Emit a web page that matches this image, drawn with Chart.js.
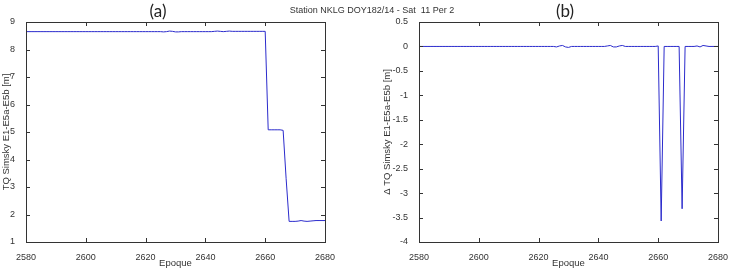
<!DOCTYPE html>
<html>
<head>
<meta charset="utf-8">
<script src="https://cdn.jsdelivr.net/npm/chart.js@4"></script>
<style>
  body { margin: 0; background: #fff; }
  #wrap { position: relative; width: 730px; height: 272px; overflow: hidden; }
  canvas { position: absolute; top: 0; }
  .lbl { position: absolute; transform: translate(-50%, -50%); white-space: pre; }
  .panel { font-family: Lato, "Open Sans", sans-serif; font-size: 17px; color: #222; }
  .station { font-family: "Liberation Sans", Arial, sans-serif; font-size: 9px; color: #333; }
</style>
</head>
<body>
<div id="wrap">
  <canvas id="chartA" width="365" height="272" style="left:0"></canvas>
  <canvas id="chartB" width="365" height="272" style="left:365px"></canvas>
  <div class="lbl panel" style="left:158px; top:10px">(a)</div>
  <div class="lbl panel" style="left:565px; top:10px">(b)</div>
  <div class="lbl station" style="left:372px; top:10px">Station NKLG DOY182/14 - Sat  11 Per 2</div>
</div>
<script>
// Epochs (x values)
const epochs = [
  2580, 2581, 2582, 2583, 2584, 2585, 2586, 2587, 2588, 2589,
  2590, 2591, 2592, 2593, 2594, 2595, 2596, 2597, 2598, 2599,
  2600, 2601, 2602, 2603, 2604, 2605, 2606, 2607, 2608, 2609,
  2610, 2611, 2612, 2613, 2614, 2615, 2616, 2617, 2618, 2619,
  2620, 2621, 2622, 2623, 2624, 2625, 2626, 2627, 2628, 2629,
  2630, 2631, 2632, 2633, 2634, 2635, 2636, 2637, 2638, 2639,
  2640, 2641, 2642, 2643, 2644, 2645, 2646, 2647, 2648, 2649,
  2650, 2651, 2652, 2653, 2654, 2655, 2656, 2657, 2658, 2659,
  2660, 2661, 2662, 2663, 2664, 2665, 2666, 2667, 2668, 2669,
  2670, 2671, 2672, 2673, 2674, 2675, 2676, 2677, 2678, 2679,
  2680
];

// (a) TQ Simsky E1-E5a-E5b [m]
const tqValues = [
  8.65, 8.65, 8.65, 8.65, 8.65, 8.65, 8.65, 8.65, 8.65, 8.65,
  8.65, 8.65, 8.65, 8.65, 8.65, 8.65, 8.65, 8.65, 8.65, 8.65,
  8.65, 8.65, 8.65, 8.65, 8.65, 8.65, 8.65, 8.65, 8.65, 8.65,
  8.65, 8.65, 8.65, 8.65, 8.65, 8.65, 8.65, 8.65, 8.65, 8.65,
  8.65, 8.65, 8.65, 8.65, 8.65, 8.65, 8.64, 8.65, 8.67, 8.66,
  8.64, 8.64, 8.65, 8.65, 8.65, 8.65, 8.65, 8.65, 8.65, 8.65,
  8.65, 8.65, 8.65, 8.66, 8.67, 8.66, 8.65, 8.66, 8.67, 8.66,
  8.66, 8.66, 8.66, 8.66, 8.66, 8.66, 8.66, 8.66, 8.66, 8.66,
  8.66, 5.08, 5.08, 5.08, 5.08, 5.08, 5.06, 3.30, 1.75, 1.75,
  1.75, 1.76, 1.78, 1.76, 1.75, 1.76, 1.77, 1.78, 1.78, 1.78,
  1.78
];

// (b) Delta TQ Simsky E1-E5a-E5b [m]
const deltaValues = [
  0, 0, 0, 0, 0, 0, 0, 0, 0, 0,
  0, 0, 0, 0, 0, 0, 0, 0, 0, 0,
  0, 0, 0, 0, 0, 0, 0, 0, 0, 0,
  0, 0, 0, 0, 0, 0, 0, 0, 0, 0,
  0, 0, 0, 0, 0, 0, -0.01, 0.01, 0.02, -0.01,
  -0.02, 0, 0, 0, 0, 0, 0, 0, 0, 0,
  0, 0, 0, 0.01, 0.02, -0.01, -0.01, 0.01, 0.02, 0,
  0, 0, 0, 0, 0, 0, 0, 0, 0, 0,
  0.01, -3.57, 0, 0, 0, 0, 0, 0, -3.32, 0,
  0, 0, 0, 0.01, -0.01, 0.02, 0.01, 0, 0, 0,
  0
];

const xTicks = [2580, 2600, 2620, 2640, 2660, 2680];
const yTicksA = [1, 2, 3, 4, 5, 6, 7, 8, 9];
const yTicksB = [-4, -3.5, -3, -2.5, -2, -1.5, -1, -0.5, 0, 0.5];

const FONT = { family: "'Liberation Sans', Arial, sans-serif", size: 9 };
const TITLE_FONT = { family: "'Liberation Sans', Arial, sans-serif", size: 9.5 };
const TEXT = '#333';
const LINE = '#2b2bcc';

// Matlab-like box with inward ticks on all four sides
const boxPlugin = {
  id: 'box',
  afterDraw(chart) {
    const ctx = chart.ctx;
    const a = chart.chartArea;
    const len = 4;
    ctx.save();
    ctx.strokeStyle = '#333';
    ctx.lineWidth = 1;
    ctx.strokeRect(Math.round(a.left) + 0.5, Math.round(a.top) + 0.5,
      Math.round(a.right - a.left), Math.round(a.bottom - a.top));
    ctx.beginPath();
    chart.scales.x.ticks.forEach(t => {
      const px = Math.round(chart.scales.x.getPixelForValue(t.value)) + 0.5;
      ctx.moveTo(px, a.bottom); ctx.lineTo(px, a.bottom - len);
      ctx.moveTo(px, a.top); ctx.lineTo(px, a.top + len);
    });
    chart.scales.y.ticks.forEach(t => {
      const py = Math.round(chart.scales.y.getPixelForValue(t.value)) + 0.5;
      ctx.moveTo(a.left, py); ctx.lineTo(a.left + len, py);
      ctx.moveTo(a.right, py); ctx.lineTo(a.right - len, py);
    });
    ctx.stroke();
    ctx.restore();
  }
};

// plain labels as in Matlab: 2580, 0.5, -4
const plain = v => String(v);

function makeChart(id, values, yTicks, yTitle, yWidth, yTitlePad, rightPad) {
  const points = epochs.map((x, i) => ({ x: x, y: values[i] }));
  return new Chart(document.getElementById(id).getContext('2d'), {
    type: 'line',
    data: {
      datasets: [{
        data: points,
        borderColor: LINE,
        borderWidth: 1,
        pointRadius: 0,
        tension: 0,
        fill: false
      }]
    },
    options: {
      responsive: false,
      animation: false,
      devicePixelRatio: 1,
      layout: { padding: { left: 0, right: rightPad, top: 22, bottom: 0 } },
      plugins: { legend: { display: false }, tooltip: { enabled: false } },
      scales: {
        x: {
          type: 'linear',
          min: xTicks[0],
          max: xTicks[xTicks.length - 1],
          afterBuildTicks: s => { s.ticks = xTicks.map(v => ({ value: v })); },
          afterFit: s => { s.height = 30; },
          grid: { display: false },
          border: { display: false },
          ticks: { font: FONT, color: TEXT, padding: 2, maxRotation: 0, autoSkip: false, callback: plain },
          title: { display: true, text: 'Epoque', font: TITLE_FONT, color: TEXT, padding: { top: 0, bottom: 3 } }
        },
        y: {
          type: 'linear',
          min: yTicks[0],
          max: yTicks[yTicks.length - 1],
          afterBuildTicks: s => { s.ticks = yTicks.map(v => ({ value: v })); },
          afterFit: s => { s.width = yWidth; },
          grid: { display: false },
          border: { display: false },
          ticks: { font: FONT, color: TEXT, padding: 3, callback: plain },
          title: { display: true, text: yTitle, font: TITLE_FONT, color: TEXT, padding: { top: yTitlePad, bottom: 0 } }
        }
      }
    },
    plugins: [boxPlugin]
  });
}

makeChart('chartA', tqValues, yTicksA, 'TQ Simsky E1-E5a-E5b [m]', 26, 1, 40);
makeChart('chartB', deltaValues, yTicksB, '\u0394 TQ Simsky E1-E5a-E5b [m]', 54, 17, 11);
</script>
</body>
</html>
